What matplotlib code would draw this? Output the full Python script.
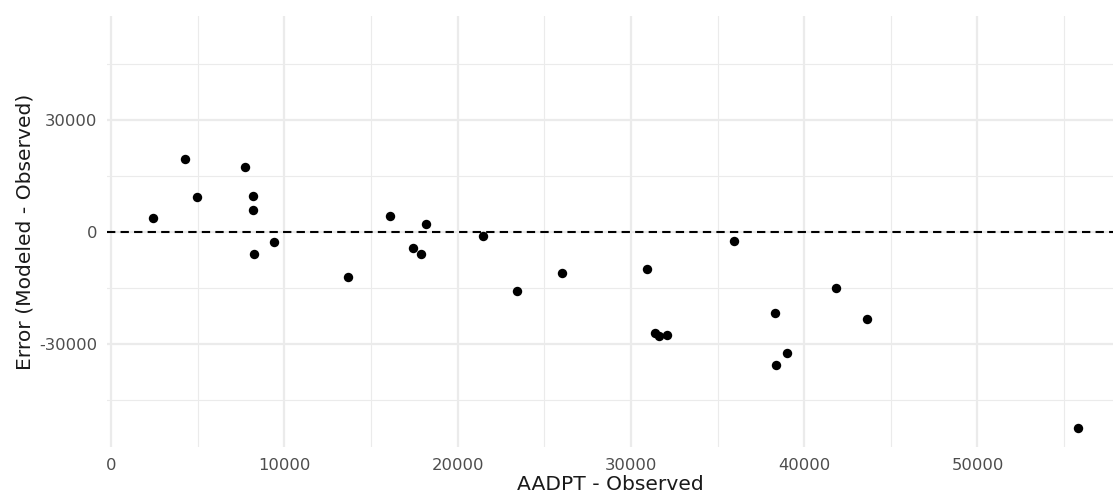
import matplotlib
matplotlib.use("Agg")
import matplotlib.pyplot as plt
from matplotlib.ticker import MultipleLocator

plt.rcParams["axes.unicode_minus"] = False

# observed AADPT and model error (modeled - observed)
observed = [2420, 4270, 4960, 7730, 8190, 8190, 8250, 9400, 13690, 16100,
            17410, 17890, 18160, 21470, 23410, 26050, 30910, 31390, 31640,
            32070, 35970, 38310, 38350, 39020, 41850, 43620, 55780]
error = [3660, 19440, 9280, 17300, 9550, 5800, -5960, -2750, -12110, 4120,
         -4280, -5880, 2060, -1230, -15780, -10960, -9970, -27090, -28070,
         -27620, -2400, -21820, -35720, -32620, -15140, -23420, -52570]

x_ticks = [0, 10000, 20000, 30000, 40000, 50000]
y_ticks = [-30000, 0, 30000]

fig = plt.figure(figsize=(11.13, 4.93), dpi=100)
ax = fig.add_axes([107 / 1113, 46 / 493, 1006 / 1113, 431 / 493])

# grid, ggplot theme_minimal style
ax.xaxis.set_minor_locator(MultipleLocator(5000))
ax.yaxis.set_minor_locator(MultipleLocator(15000))
ax.set_xticks(x_ticks)
ax.set_yticks(y_ticks)
ax.grid(which="major", color="#EBEBEB", linewidth=1.6)
ax.grid(which="minor", color="#EBEBEB", linewidth=0.8)
ax.set_axisbelow(True)

ax.axhline(0, color="black", linewidth=1.5, linestyle=(0, (4, 2.5)), zorder=2)
ax.scatter(observed, error, s=46, color="black", zorder=3, linewidths=0)

ax.set_xlim(-230, 57820)
ax.set_ylim(-57670, 57780)

for s in ax.spines.values():
    s.set_visible(False)
ax.tick_params(which="both", length=0, labelsize=11.8, labelcolor="#4D4D4D")
ax.tick_params(axis="x", pad=8)
ax.tick_params(axis="y", pad=7)

ax.set_xlabel("AADPT - Observed", fontsize=14.6, color="#1A1A1A", va="center")
ax.xaxis.set_label_coords(0.5, -0.088)
ax.set_ylabel("Error (Modeled - Observed)", fontsize=14.6, color="#1A1A1A", va="center")
ax.yaxis.set_label_coords(-0.0815, 0.5)

fig.savefig("out.png", dpi=100)
